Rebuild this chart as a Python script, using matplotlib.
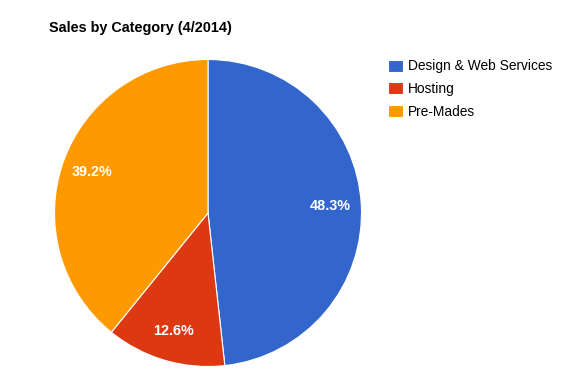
import matplotlib.pyplot as plt

categories = ['Design & Web Services', 'Hosting', 'Pre-Mades']
shares = [48.3, 12.6, 39.2]
colors = ['#3366CC', '#DC3912', '#FF9900']

plt.rcParams['font.family'] = ['Liberation Sans', 'DejaVu Sans']

W, H = 577, 392
fig = plt.figure(figsize=(W / 100, H / 100), dpi=100)

# pie centre ~ (208, 213) px, radius ~153.5 px
r = 153.5
cx, cy = 208, 213
ax = fig.add_axes([(cx - r) / W, (H - cy - r) / H, 2 * r / W, 2 * r / H])

wedges, texts, autotexts = ax.pie(
    shares, colors=colors, startangle=90, counterclock=False,
    autopct='%.1f%%', pctdistance=0.8,
    wedgeprops=dict(edgecolor='white', linewidth=0.8),
    textprops=dict(color='white', fontsize=10.4, fontweight='bold'))
ax.set_xlim(-1, 1)
ax.set_ylim(-1, 1)
ax.set_aspect('equal')

fig.text(49 / W, 1 - 28 / H, 'Sales by Category (4/2014)', fontsize=10.4,
         fontweight='bold', va='center', ha='left', color='black')

fig.legend(wedges, categories, loc='upper left',
           bbox_to_anchor=(383 / W, 1 - 54 / H), frameon=False,
           fontsize=9.9, handlelength=1.05, handleheight=1.0,
           handletextpad=0.35, labelspacing=0.62, borderaxespad=0)

fig.savefig('out.png', dpi=100)
